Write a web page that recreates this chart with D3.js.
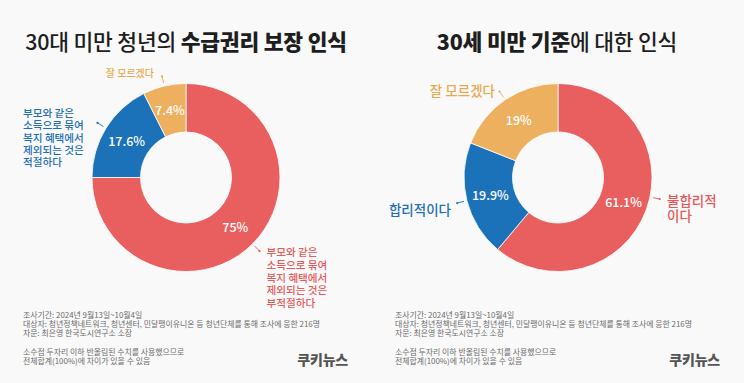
<!DOCTYPE html>
<html><head><meta charset="utf-8">
<script src="https://cdn.jsdelivr.net/npm/d3@7"></script>
<style>
html,body{margin:0;padding:0;background:#f9f9f9;}
svg{display:block;font-family:"Noto Sans CJK KR","Noto Sans",sans-serif;}
</style></head><body>
<svg id="c" width="744" height="383"></svg>
<script>
// ---- data ----
const categories1 = ["부적절하다", "적절하다", "잘 모르겠다"];
const values1 = [75, 17.6, 7.4];
const valueLabels1 = ["75%", "17.6%", "7.4%"];
const sliceLabels1 = [
  ["부모와 같은", "소득으로 묶여", "복지 혜택에서", "제외되는 것은", "부적절하다"],
  ["부모와 같은", "소득으로 묶여", "복지 혜택에서", "제외되는 것은", "적절하다"],
  ["잘 모르겠다"]
];
const categories2 = ["불합리적이다", "합리적이다", "잘 모르겠다"];
const values2 = [61.1, 19.9, 19];
const valueLabels2 = ["61.1%", "19.9%", "19%"];
const sliceLabels2 = [["불합리적", "이다"], ["합리적이다"], ["잘 모르겠다"]];
const titles1 = [["30대 미만 청년의 ", 500], ["수급권리 보장 인식", 800]];
const titles2 = [["30세 미만 기준", 800], ["에 대한 인식", 500]];
const footnotes = [
  "조사기간: 2024년 9월13일~10월4일",
  "대상자: 청년정책네트워크, 청년센터, 민달팽이유니온 등 청년단체를 통해 조사에 응한 216명",
  "자문: 최은영 한국도시연구소 소장",
  "",
  "소수점 두자리 이하 반올림된 수치를 사용했으므로",
  "전체합계(100%)에 차이가 있을 수 있음"
];
const sourceLabel = "쿠키뉴스";

// ---- style ----
const colors = ["#e95f5f", "#1c72b8", "#edb05f"];
const textColors = ["#e65a5a", "#1f6fb4", "#e9a950"];

const svg = d3.select("#c");

function drawPanel(opts) {
  const g = svg.append("g").attr("transform", `translate(${opts.x0},0)`);
  const cx = 186, cy = 177.5, R = 94, r = 45.5;
  // title
  const t = g.append("text").attr("x", opts.tx).attr("y", 40).attr("text-anchor", "middle")
    .attr("dominant-baseline", "central").attr("font-size", opts.tfs).attr("fill", "#1e1e1e")
    .attr("letter-spacing", -0.2);
  opts.title.forEach(([s, w]) => t.append("tspan").attr("font-weight", w).text(s));

  const pie = d3.pie().sort(null).value(d => d)(opts.values);
  const arc = d3.arc().innerRadius(r).outerRadius(R);
  const dg = g.append("g").attr("transform", `translate(${cx},${cy})`);
  dg.selectAll("path").data(pie).join("path").attr("d", arc)
    .attr("fill", (d, i) => colors[i]).attr("stroke", "#ffffff").attr("stroke-width", 0.8);
  dg.selectAll("text.v").data(pie).join("text").attr("class", "v")
    .attr("transform", d => `translate(${arc.centroid(d)})`)
    .attr("text-anchor", "middle").attr("dominant-baseline", "central")
    .attr("font-size", 12.5).attr("font-weight", 500).attr("fill", "#ffffff")
    .text((d, i) => opts.valueLabels[i]);

  // leaders + slice labels
  pie.forEach((d, i) => {
    const L = opts.labels[i];
    const a = (d.startAngle + d.endAngle) / 2 + (L.da || 0);
    const p = rr => [Math.sin(a) * rr, -Math.cos(a) * rr];
    const p1 = p(R + 3), p2 = p(R + 10);
    dg.append("line").attr("x1", p1[0]).attr("y1", p1[1]).attr("x2", p2[0]).attr("y2", p2[1])
      .attr("stroke", textColors[i]).attr("stroke-width", 0.9);
    dg.append("circle").attr("cx", p2[0]).attr("cy", p2[1]).attr("r", 1.1).attr("fill", textColors[i]);
    opts.sliceLabels[i].forEach((s, k) => dg.append("text")
      .attr("x", L.x).attr("y", L.y + k * L.lh).attr("text-anchor", L.anchor)
      .attr("font-size", L.fs).attr("font-weight", 500).attr("fill", textColors[i])
      .attr("dominant-baseline", "central").text(s));
  });

  // footnotes
  footnotes.forEach((s, k) => { if (s) g.append("text").attr("x", 23).attr("y", 314.5 + k * 9.2)
    .attr("dominant-baseline", "central").attr("font-size", 7.9).attr("fill", "#6a6a6a").text(s); });
  g.append("text").attr("x", 348).attr("y", 359).attr("text-anchor", "end")
    .attr("dominant-baseline", "central").attr("font-size", 14).attr("font-weight", 800)
    .attr("fill", "#555555").attr("letter-spacing", -0.2).text(sourceLabel);
}

drawPanel({
  x0: 0, title: titles1, tx: 186, tfs: 21.5, values: values1, valueLabels: valueLabels1, sliceLabels: sliceLabels1,
  labels: [
    {x: 80.5, y: 74, anchor: "start", fs: 10.6, lh: 12.8},
    {x: -163, y: -65, anchor: "start", fs: 10.6, lh: 12.3},
    {x: -32, y: -105, anchor: "end", fs: 10, lh: 12}
  ]
});
drawPanel({
  x0: 372, title: titles2, tx: 185, tfs: 21.5, values: values2, valueLabels: valueLabels2, sliceLabels: sliceLabels2,
  labels: [
    {x: 109, y: 22.5, anchor: "start", fs: 13.5, lh: 15, da: -0.14},
    {x: -107, y: 31.5, anchor: "end", fs: 13.5, lh: 15},
    {x: -63, y: -87.5, anchor: "end", fs: 13.5, lh: 15}
  ]
});
</script></body></html>
